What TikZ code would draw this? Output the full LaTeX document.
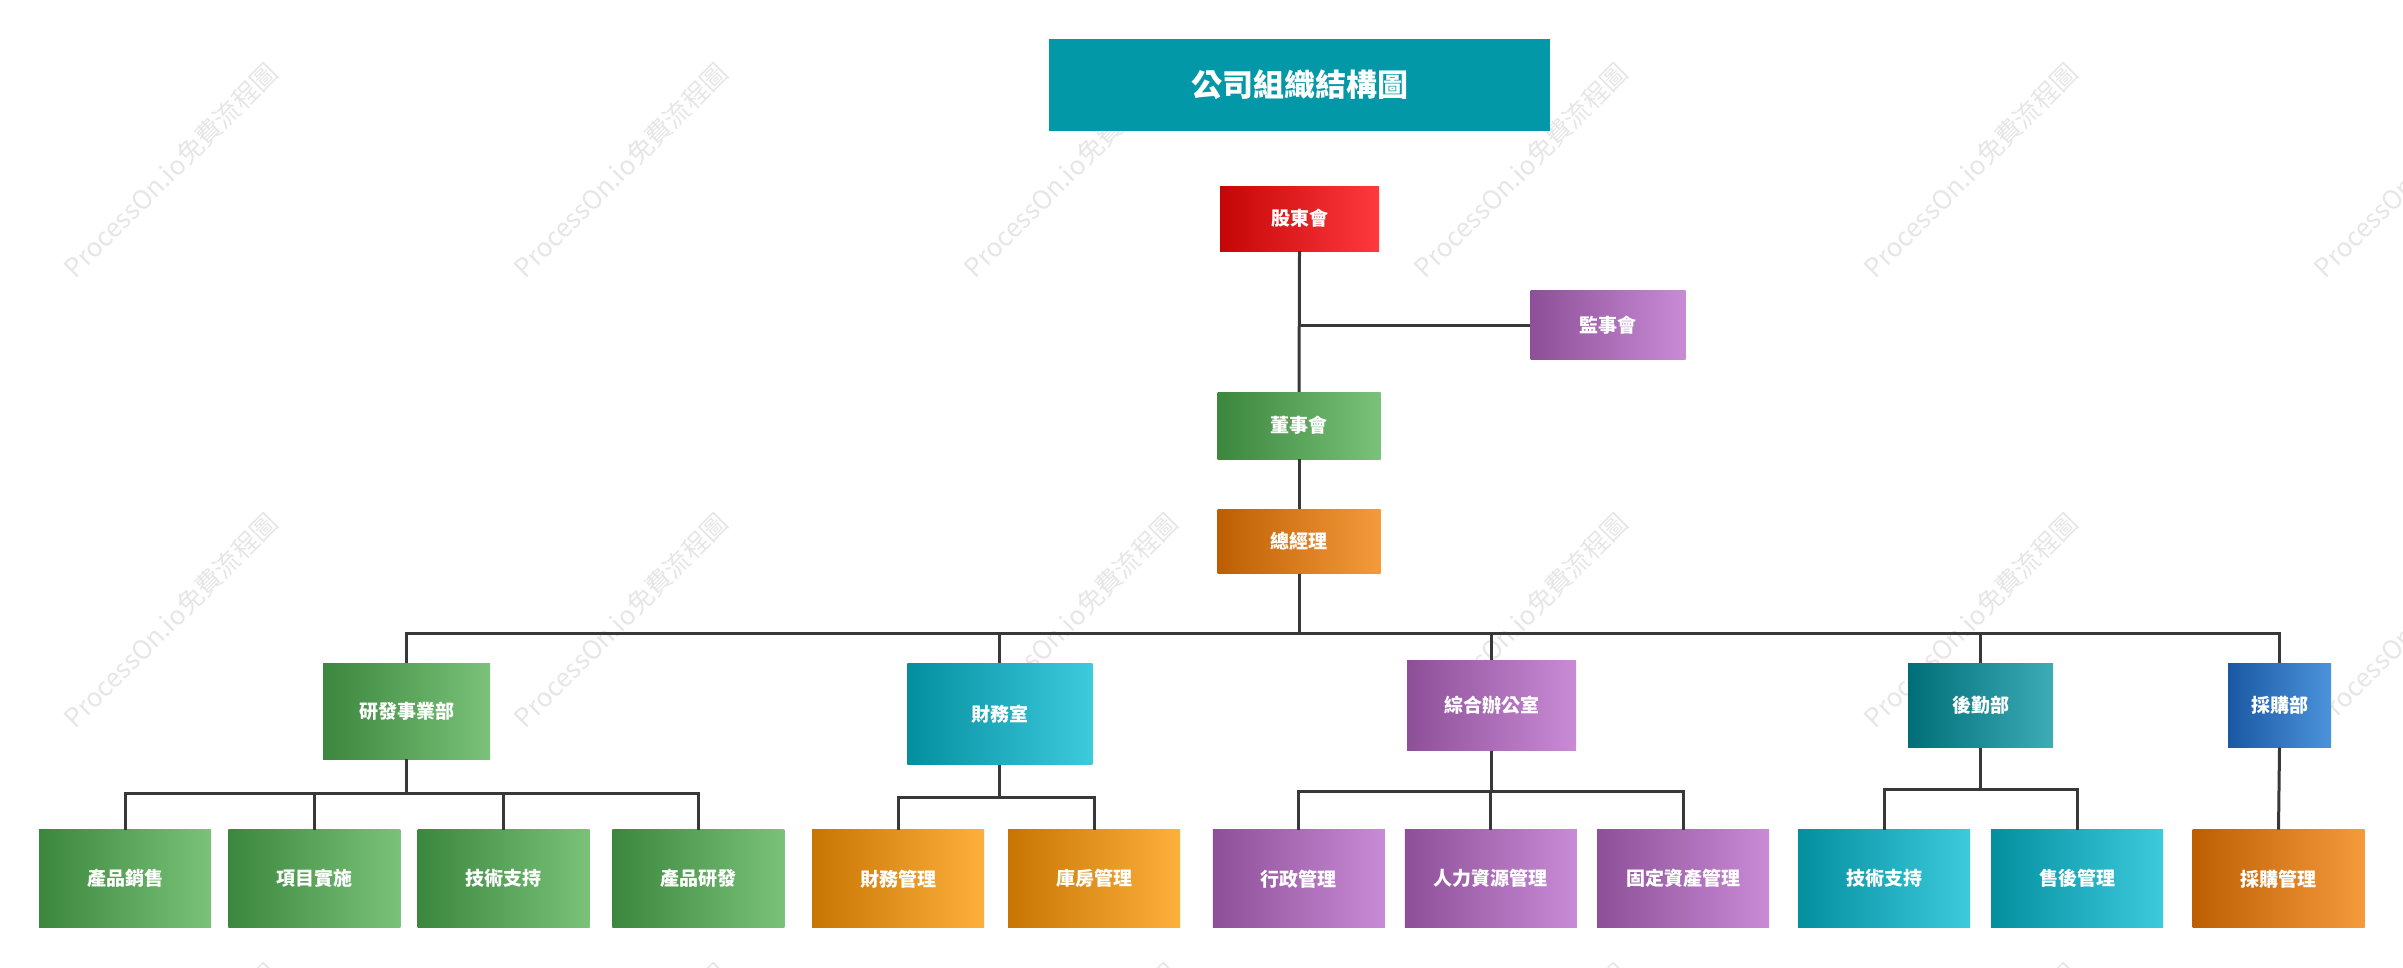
\documentclass[tikz,border=0pt]{standalone}
\usepackage{fontspec}
\setmainfont{Noto Sans CJK TC}
\usetikzlibrary{calc}
\definecolor{ttl}{HTML}{0398A7}
\definecolor{redA}{HTML}{C40606}\definecolor{redB}{HTML}{FF393E}
\definecolor{purA}{HTML}{8C4F98}\definecolor{purB}{HTML}{C98BD5}
\definecolor{grnA}{HTML}{3B873D}\definecolor{grnB}{HTML}{7AC279}
\definecolor{ornA}{HTML}{BD5E02}\definecolor{ornB}{HTML}{F59B3C}
\definecolor{tealA}{HTML}{048F9F}\definecolor{tealB}{HTML}{3CCADD}
\definecolor{ambA}{HTML}{C77503}\definecolor{ambB}{HTML}{FEB03C}
\definecolor{dtlA}{HTML}{006E77}\definecolor{dtlB}{HTML}{3EACB7}
\definecolor{bluA}{HTML}{1A58A3}\definecolor{bluB}{HTML}{4B93DB}
\definecolor{lnc}{HTML}{383838}
\definecolor{wmk}{HTML}{E6E6E6}
\tikzset{
  box/.style={text=white, font=\fontsize{19}{22}\selectfont\bfseries, inner sep=0pt, anchor=center},
  grn/.style={box, left color=grnA, right color=grnB},
  red/.style={box, left color=redA, right color=redB},
  pur/.style={box, left color=purA, right color=purB},
  orn/.style={box, left color=ornA, right color=ornB},
  tea/.style={box, left color=tealA, right color=tealB},
  amb/.style={box, left color=ambA, right color=ambB},
  dtl/.style={box, left color=dtlA, right color=dtlB},
  blu/.style={box, left color=bluA, right color=bluB},
  leaf/.style={minimum width=172pt, minimum height=98pt},
  conn/.style={draw=lnc, line width=3pt},
  wm/.style={rotate=45, text=wmk, font=\fontsize{26}{28}\selectfont}
}
\begin{document}
\begin{tikzpicture}[x=1pt,y=-1pt]
\useasboundingbox (0,0) rectangle (2403,967);
\begin{scope}
\clip (0,0) rectangle (2403,967);
\foreach \yy in {170,620,1070}{
  \foreach \xx in {171,621,1071,1521,1971,2421}{
    \node[wm] at (\xx,\yy) {ProcessOn.io免費流程圖};
  }
}
\end{scope}
% title
\node[fill=ttl, text=white, font=\fontsize{31}{34}\selectfont\bfseries, minimum width=501pt, minimum height=92pt, inner sep=0pt] (title) at (1299.5,85) {公司組織結構圖};
% top chain
\node[red, minimum width=159pt, minimum height=65pt] (gd) at (1299.5,218.5) {股東會};
\node[pur, minimum width=155pt, minimum height=69pt] (js) at (1608,325) {監事會};
\node[grn, minimum width=163pt, minimum height=67pt] (ds) at (1299,425.5) {董事會};
\node[orn, minimum width=163pt, minimum height=64pt] (gm) at (1299,541.5) {總經理};
% level 2
\node[grn, minimum width=167pt, minimum height=96pt] (rd) at (406.5,711) {研發事業部};
\node[tea, minimum width=185pt, minimum height=101pt] (cw) at (999.8,714) {財務室};
\node[pur, minimum width=169pt, minimum height=90pt] (zh) at (1491.5,705.3) {綜合辦公室};
\node[dtl, minimum width=145pt, minimum height=84pt] (hq) at (1980.5,705.5) {後勤部};
\node[blu, minimum width=103pt, minimum height=84pt] (cg) at (2279.5,705.5) {採購部};
% level 3
\node[grn, leaf] (a1) at (125.2,878.7) {產品銷售};
\node[grn, leaf] (a2) at (314.3,878.7) {項目實施};
\node[grn, leaf] (a3) at (503.5,878.7) {技術支持};
\node[grn, leaf] (a4) at (698.4,878.7) {產品研發};
\node[amb, leaf] (b1) at (898.2,878.7) {財務管理};
\node[amb, leaf] (b2) at (1094.2,878.7) {庫房管理};
\node[pur, leaf] (c1) at (1298.9,878.7) {行政管理};
\node[pur, leaf] (c2) at (1490.9,878.7) {人力資源管理};
\node[pur, leaf] (c3) at (1683,878.7) {固定資產管理};
\node[tea, leaf] (d1) at (1884.2,878.7) {技術支持};
\node[tea, leaf] (d2) at (2077.2,878.7) {售後管理};
\node[orn, leaf] (e1) at (2278.5,878.7) {採購管理};
% bus coordinates
\coordinate (bus) at (0,633);
\coordinate (jsy) at (0,325);
\coordinate (brd) at (0,793);
\coordinate (bcw) at (0,797);
\coordinate (bzh) at (0,791);
\coordinate (bhq) at (0,789);
% connectors
\draw[conn] (gd.south) -- (ds.north);
\draw[conn] (gd.south |- jsy) -- (js.west);
\draw[conn] (ds.south) -- (gm.north);
\foreach \n in {rd,cw,zh,hq,cg}{
  \draw[conn] (gm.south) -- (gm.south |- bus) -| (\n.north);
}
\foreach \n in {a1,a2,a3,a4}{
  \draw[conn] (rd.south) -- (rd.south |- brd) -| (\n.north);
}
\foreach \n in {b1,b2}{
  \draw[conn] (cw.south) -- (cw.south |- bcw) -| (\n.north);
}
\foreach \n in {c1,c2,c3}{
  \draw[conn] (zh.south) -- (zh.south |- bzh) -| (\n.north);
}
\foreach \n in {d1,d2}{
  \draw[conn] (hq.south) -- (hq.south |- bhq) -| (\n.north);
}
\draw[conn] (cg.south) -- (e1.north);
\end{tikzpicture}
\end{document}
